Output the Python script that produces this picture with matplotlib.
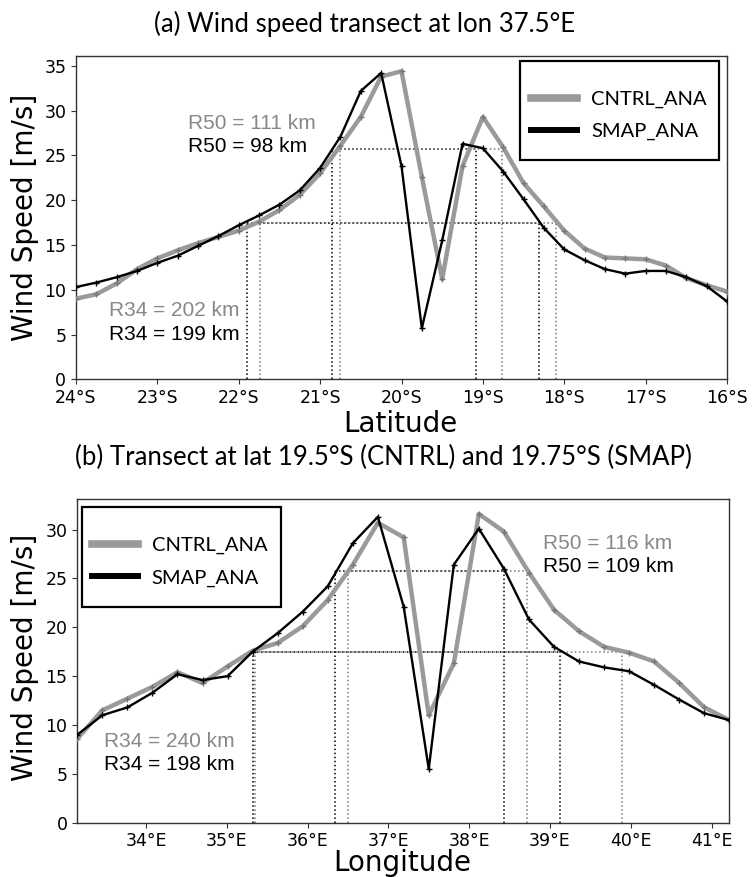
import matplotlib
matplotlib.use('Agg')
import matplotlib.pyplot as plt
from matplotlib.patches import Rectangle

# ---------------- data ----------------
lat = [-24.0, -23.75, -23.5, -23.25, -23.0, -22.75, -22.5, -22.25, -22.0,
       -21.75, -21.5, -21.25, -21.0, -20.75, -20.5, -20.25, -20.0, -19.75,
       -19.5, -19.25, -19.0, -18.75, -18.5, -18.25, -18.0, -17.75, -17.5,
       -17.25, -17.0, -16.75, -16.5, -16.25, -16.0]
cntrl_a = [9.0, 9.5, 10.7, 12.3, 13.5, 14.4, 15.2, 15.9, 16.6, 17.6, 18.9,
           20.6, 23.0, 26.1, 29.3, 33.8, 34.4, 22.6, 11.2, 23.8, 29.3, 25.9,
           21.9, 19.3, 16.6, 14.6, 13.6, 13.5, 13.4, 12.7, 11.3, 10.5, 9.8]
smap_a = [10.3, 10.8, 11.4, 12.1, 13.0, 13.8, 14.9, 16.0, 17.2, 18.3, 19.5,
          21.1, 23.6, 27.1, 32.2, 34.2, 23.8, 5.7, 15.5, 26.3, 25.8, 23.2,
          20.1, 16.9, 14.5, 13.3, 12.3, 11.8, 12.1, 12.1, 11.4, 10.4, 8.7]

lon = [33.15, 33.46, 33.77, 34.08, 34.39, 34.70, 35.01, 35.32, 35.63, 35.94,
       36.25, 36.56, 36.87, 37.19, 37.50, 37.81, 38.12, 38.43, 38.74, 39.05,
       39.36, 39.67, 39.98, 40.29, 40.60, 40.91, 41.22]
cntrl_b = [8.6, 11.5, 12.7, 13.9, 15.4, 14.3, 16.0, 17.6, 18.4, 20.1, 22.8,
           26.4, 30.7, 29.2, 11.0, 16.3, 31.6, 29.8, 25.6, 21.8, 19.6, 18.0,
           17.4, 16.5, 14.3, 11.8, 10.5]
smap_b = [9.0, 11.0, 11.8, 13.3, 15.2, 14.6, 15.0, 17.5, 19.4, 21.6, 24.2,
          28.6, 31.3, 22.1, 5.5, 26.4, 30.1, 26.0, 20.8, 18.0, 16.5, 15.9,
          15.5, 14.1, 12.6, 11.2, 10.5]

R34_MS = 17.49   # 34 kt in m/s
R50_MS = 25.72   # 50 kt in m/s

# radius crossing positions (left, right)
a_cntrl_r34 = [-21.74, -18.10]
a_smap_r34 = [-21.90, -18.31]
a_cntrl_r50 = [-20.76, -18.76]
a_smap_r50 = [-20.85, -19.08]
b_cntrl_r34 = [35.35, 39.89]
b_smap_r34 = [35.32, 39.12]
b_cntrl_r50 = [36.50, 38.71]
b_smap_r50 = [36.34, 38.43]

lat_ticks = [-24, -23, -22, -21, -20, -19, -18, -17, -16]
lat_labels = ['24°S', '23°S', '22°S', '21°S', '20°S', '19°S', '18°S', '17°S', '16°S']
lon_ticks = [34, 35, 36, 37, 38, 39, 40, 41]
lon_labels = ['34°E', '35°E', '36°E', '37°E', '38°E', '39°E', '40°E', '41°E']

GREY = '#9a9a9a'
GREY_TXT = '#888888'
W, H = 752, 877

fig = plt.figure(figsize=(W / 100, H / 100), dpi=100)
plt.rcParams['font.family'] = 'DejaVu Sans'

ax1 = fig.add_axes([76 / W, 1 - 379.3 / H, 651 / W, 323.3 / H])
ax2 = fig.add_axes([77.3 / W, 1 - 822.7 / H, 652 / W, 323.4 / H])


def radius_lines(ax, cr34, sr34, cr50, sr50):
    for xs, col in ((sr34, 'black'), (cr34, '#777777')):
        ax.hlines(R34_MS, xs[0], xs[1], colors=col, linestyles=':', lw=1.1, zorder=1)
        ax.vlines(xs, 0, R34_MS, colors=col, linestyles=':', lw=1.1, zorder=1)
    for xs, col in ((sr50, 'black'), (cr50, '#777777')):
        ax.hlines(R50_MS, xs[0], xs[1], colors=col, linestyles=':', lw=1.1, zorder=1)
        ax.vlines(xs, 0, R50_MS, colors=col, linestyles=':', lw=1.1, zorder=1)


def panel(ax, x, cntrl, smap, ticks, labels, ylim):
    ax.plot(x, cntrl, color=GREY, lw=3.2, marker='+', ms=4, mew=1,
            mec='#777777', label='CNTRL_ANA', zorder=3)
    ax.plot(x, smap, color='black', lw=1.7, marker='+', ms=4, mew=1,
            label='SMAP_ANA', zorder=4)
    ax.set_xlim(x[0], x[-1])
    ax.set_ylim(*ylim)
    ax.set_xticks(ticks)
    ax.set_xticklabels(labels)
    ax.tick_params(labelsize=12.5, color='#333333')
    for s in ax.spines.values():
        s.set_color('#333333')
        s.set_linewidth(1.0)


panel(ax1, lat, cntrl_a, smap_a, lat_ticks, lat_labels, (0, 36.1))
radius_lines(ax1, a_cntrl_r34, a_smap_r34, a_cntrl_r50, a_smap_r50)
ax1.set_yticks([0, 5, 10, 15, 20, 25, 30, 35])

panel(ax2, lon, cntrl_b, smap_b, lon_ticks, lon_labels, (0, 33.1))
radius_lines(ax2, b_cntrl_r34, b_smap_r34, b_cntrl_r50, b_smap_r50)
ax2.set_yticks([0, 5, 10, 15, 20, 25, 30])


def legend_box(ax, anchor, rect):
    leg = ax.legend(loc='upper left', bbox_to_anchor=anchor, frameon=False,
                    borderpad=0, borderaxespad=0, handlelength=2.3,
                    handletextpad=0.67, labelspacing=0.75,
                    prop={'family': 'Lato', 'size': 14.5})
    for ln, w in zip(leg.get_lines(), [5.5, 4.3]):
        ln.set_linewidth(w)
        ln.set_marker('')
    ax.add_patch(Rectangle((rect[0], rect[1]), rect[2] - rect[0], rect[3] - rect[1],
                           transform=ax.transAxes, fill=False, ec='black',
                           lw=1.6, zorder=6, clip_on=False))


legend_box(ax1, (0.699, 0.893), (0.682, 0.6783, 0.9877, 0.9845))
legend_box(ax2, (0.0221, 0.884), (0.00675, 0.668, 0.3124, 0.977))

# annotations
ann = dict(family='Liberation Sans', fontsize=15, va='baseline', ha='left')
ax1.text(-22.62, 28.0, 'R50 = 111 km', color=GREY_TXT, **ann)
ax1.text(-22.62, 25.36, 'R50 = 98 km', color='black', **ann)
ax1.text(-23.59, 7.07, 'R34 = 202 km', color=GREY_TXT, **ann)
ax1.text(-23.59, 4.39, 'R34 = 199 km', color='black', **ann)
ax2.text(38.92, 28.05, 'R50 = 116 km', color=GREY_TXT, **ann)
ax2.text(38.92, 25.66, 'R50 = 109 km', color='black', **ann)
ax2.text(33.48, 7.79, 'R34 = 240 km', color=GREY_TXT, **ann)
ax2.text(33.48, 5.40, 'R34 = 198 km', color='black', **ann)

# titles and axis labels
title_kw = dict(ha='center', va='baseline', family='Lato', weight='normal', fontsize=18.5)
fig.text(365 / W, 1 - 31.7 / H, '(a) Wind speed transect at lon 37.5°E', **title_kw)
fig.text(383 / W, 1 - 465 / H, '(b) Transect at lat 19.5°S (CNTRL) and 19.75°S (SMAP)',
         **title_kw)
fig.text(400.5 / W, 1 - 431.7 / H, 'Latitude', ha='center', va='baseline', fontsize=20)
fig.text(402.5 / W, 1 - 871 / H, 'Longitude', ha='center', va='baseline', fontsize=20)
fig.text(24.7 / W, 1 - 217.5 / H, 'Wind Speed [m/s]', ha='center', va='center',
         rotation=90, fontsize=20)
fig.text(24.7 / W, 1 - 657.6 / H, 'Wind Speed [m/s]', ha='center', va='center',
         rotation=90, fontsize=20)

fig.savefig('out.png', dpi=100)
